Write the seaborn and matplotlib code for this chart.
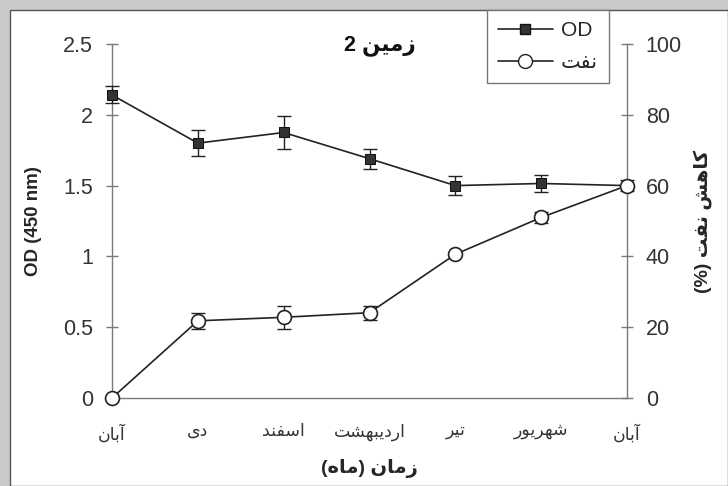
import numpy as np
import matplotlib
matplotlib.use("Agg")
import matplotlib.pyplot as plt
from matplotlib.patches import Rectangle
from matplotlib.lines import Line2D
import seaborn as sns

# ── data ──────────────────────────────────────────────────────────────
months = ["آبان", "دی", "اسفند", "اردیبهشت", "تیر", "شهریور", "آبان"]
od_mean = [2.14, 1.80, 1.875, 1.69, 1.50, 1.515, 1.50]
od_err = [0.06, 0.09, 0.12, 0.07, 0.067, 0.06, 0.0]
oil_mean = [0.0, 21.8, 22.8, 24.1, 40.6, 51.0, 60.0]
oil_err = [0.0, 2.3, 3.2, 2.0, 0.5, 1.6, 1.6]

title_txt = "زمین 2"
xlabel_txt = "زمان (ماه)"
ylabel_left = "OD (450 nm)"
ylabel_right = "کاهش نفت (%)"
legend_od = "OD"
legend_oil = "نفت"

# matplotlib has no Arabic shaping, so pick the presentation forms by hand
FORMS = {
    "ا": ("\uFE8D", "\uFE8E", None, None),
    "آ": ("\uFE81", "\uFE82", None, None),
    "ب": ("\uFE8F", "\uFE90", "\uFE91", "\uFE92"),
    "ت": ("\uFE95", "\uFE96", "\uFE97", "\uFE98"),
    "د": ("\uFEA9", "\uFEAA", None, None),
    "ر": ("\uFEAD", "\uFEAE", None, None),
    "ز": ("\uFEAF", "\uFEB0", None, None),
    "س": ("\uFEB1", "\uFEB2", "\uFEB3", "\uFEB4"),
    "ش": ("\uFEB5", "\uFEB6", "\uFEB7", "\uFEB8"),
    "ف": ("\uFED1", "\uFED2", "\uFED3", "\uFED4"),
    "ک": ("\uFB8E", "\uFB8F", "\uFB90", "\uFB91"),
    "م": ("\uFEE1", "\uFEE2", "\uFEE3", "\uFEE4"),
    "ن": ("\uFEE5", "\uFEE6", "\uFEE7", "\uFEE8"),
    "ه": ("\uFEE9", "\uFEEA", "\uFEEB", "\uFEEC"),
    "و": ("\uFEED", "\uFEEE", None, None),
    "ی": ("\uFBFC", "\uFBFD", "\uFBFE", "\uFBFF"),
}


def fa(text):
    out = []
    for i, ch in enumerate(text):
        if ch not in FORMS:
            out.append(ch)
            continue
        prev = text[i - 1] if i > 0 else ""
        nxt = text[i + 1] if i + 1 < len(text) else ""
        jp = prev in FORMS and FORMS[prev][2] is not None
        jn = FORMS[ch][2] is not None and nxt in FORMS
        iso, fin, ini, med = FORMS[ch]
        out.append(med if (jp and jn) else fin if jp else ini if jn else iso)
    s = "".join(out)[::-1]
    return s.translate(str.maketrans("()", ")("))


sns.set_theme(style="white")
plt.rcParams["font.family"] = ["Liberation Sans", "DejaVu Sans"]

W, H = 728, 486
fig = plt.figure(figsize=(W / 100, H / 100), dpi=100)
fig.patch.set_facecolor("#c9c9c7")
fig.patches.append(Rectangle((10 / W, 0), 1 - 10 / W, 1 - 10 / H,
                             transform=fig.transFigure, facecolor="white",
                             edgecolor="#555555", linewidth=1.0, zorder=-10))

ax = fig.add_axes([112 / W, 1 - 398 / H, 515 / W, 354 / H])
ax.patch.set_alpha(0)
ax2 = ax.twinx()
ax2.patch.set_alpha(0)

x = np.arange(len(months))
axis_c = "#7a7a7a"

# ── OD (left axis) ────────────────────────────────────────────────────
ax.errorbar(x, od_mean, yerr=od_err, fmt="none", ecolor="#222222",
            elinewidth=1.0, capsize=5, capthick=1.0, clip_on=False, zorder=3)
sns.lineplot(x=x, y=od_mean, color="#222222", linewidth=1.2, marker="s",
             markersize=7, markerfacecolor="#333333", markeredgecolor="#111111",
             ax=ax, clip_on=False, zorder=4)

# ── oil reduction (right axis) ────────────────────────────────────────
ax2.errorbar(x, oil_mean, yerr=oil_err, fmt="none", ecolor="#222222",
             elinewidth=1.0, capsize=5, capthick=1.0, clip_on=False, zorder=3)
sns.lineplot(x=x, y=oil_mean, color="#222222", linewidth=1.2, marker="o",
             markersize=10, markerfacecolor="white", markeredgecolor="#222222",
             markeredgewidth=1.2, ax=ax2, clip_on=False, zorder=4)

# ── axes ──────────────────────────────────────────────────────────────
ax.set_xlim(0, 6)
ax.set_ylim(0, 2.5)
ax2.set_ylim(0, 100)
ax.set_yticks([0, 0.5, 1, 1.5, 2, 2.5])
ax.set_yticklabels(["0", "0.5", "1", "1.5", "2", "2.5"])
ax2.set_yticks([0, 20, 40, 60, 80, 100])
ax.set_xticks(x)
ax.set_xticklabels([fa(m) for m in months], color="#333333")

for a in (ax, ax2):
    a.spines["top"].set_visible(False)
    for s in ("left", "right", "bottom"):
        a.spines[s].set_color(axis_c)
        a.spines[s].set_linewidth(1.0)
    a.tick_params(axis="both", direction="inout", length=9, width=1.0,
                  color=axis_c, labelsize=15.5, labelcolor="#333333")
ax.spines["right"].set_visible(False)
ax2.spines["left"].set_visible(False)
ax2.spines["bottom"].set_visible(False)
ax.tick_params(axis="y", pad=9)
ax2.tick_params(axis="y", pad=9)
ax.tick_params(axis="x", pad=14, labelsize=12.5)

ax.set_xlabel(fa(xlabel_txt), fontsize=14, fontweight="bold", labelpad=12)
ax.set_ylabel(ylabel_left, fontsize=13.5, fontweight="bold", labelpad=15)
ax2.set_ylabel(fa(ylabel_right), fontsize=14, fontweight="bold",
               labelpad=8, rotation=90)
ax.grid(False)
ax2.grid(False)

ax.text(0.52, 0.995, fa(title_txt), transform=ax.transAxes, ha="center",
        va="center", fontsize=15.5, fontweight="bold", color="#111111")

# ── legend ────────────────────────────────────────────────────────────
handles = [
    Line2D([], [], color="#222222", linewidth=1.2, marker="s", markersize=7,
           markerfacecolor="#333333", markeredgecolor="#111111"),
    Line2D([], [], color="#222222", linewidth=1.2, marker="o", markersize=10,
           markerfacecolor="white", markeredgecolor="#222222"),
]
leg = ax2.legend(handles, [legend_od, fa(legend_oil)], loc="upper left",
                 bbox_to_anchor=(0.728, 1.096), borderaxespad=0,
                 fontsize=15, frameon=True, fancybox=False, handlelength=2.6,
                 borderpad=0.55, labelspacing=0.6, handletextpad=0.4)
leg.get_frame().set_edgecolor("#777777")
leg.get_frame().set_linewidth(1.0)
leg.get_frame().set_alpha(1)

fig.savefig("out.png", dpi=100, facecolor=fig.get_facecolor())
